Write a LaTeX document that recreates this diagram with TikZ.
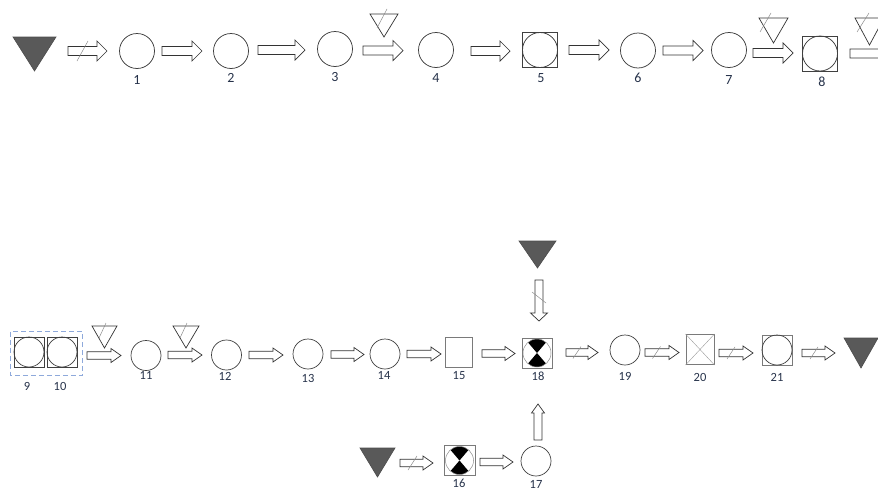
\documentclass[tikz,border=0pt]{standalone}
\usepackage{fontspec}
\setmainfont{Carlito}
\usetikzlibrary{calc}
\definecolor{lblc}{HTML}{26324A}
\definecolor{trifill}{HTML}{595959}
\definecolor{dashblue}{HTML}{8EA9DB}
\definecolor{linec}{HTML}{404040}
\definecolor{sqgray}{HTML}{7A7A7A}
\newcommand\bkarrow[7]{%
  \begin{scope}[shift={(#1,#2)},rotate=#4]
    \draw[barrow] (0,-#5) -- ({#3-#7},-#5) -- ({#3-#7},-#6) -- (#3,0) -- ({#3-#7},#6) -- ({#3-#7},#5) -- (0,#5) -- cycle;
  \end{scope}}
\newcommand\slashat[4]{\draw[slash] ({#1-#3},{#2+#4}) -- ({#1+#3},{#2-#4});}
\newcommand\otri[4]{\draw[opentri] (#1,#3) -- (#2,#3) -- ({(#1+#2)/2},#4) -- cycle;}
\newcommand\ftri[4]{\draw[filltri] (#1,#3) -- (#2,#3) -- ({(#1+#2)/2},#4) -- cycle;}
\newcommand\hourglass[2]{%
  \begin{scope}
    \clip (#1.center) circle[radius=#2];
    \fill[black] (#1.center) -- ++(-17,-20) -- ++(34,0) -- cycle;
    \fill[black] (#1.center) -- ++(-17,20) -- ++(34,0) -- cycle;
  \end{scope}
  \draw[thinc] (#1.center) circle[radius=#2];}
\tikzset{
  barrow/.style={draw=black!80, fill=white, line width=0.7pt, line join=miter},
  slash/.style={draw=black!45, line width=0.5pt},
  opentri/.style={draw=black!80, fill=white, line width=0.7pt, line join=miter},
  filltri/.style={draw=black!70, fill=trifill, line width=0.6pt, line join=miter},
  ctop/.style={circle, draw=linec, line width=0.75pt, minimum size=35pt, inner sep=0pt},
  cbot/.style={circle, draw=linec, line width=0.7pt, minimum size=30pt, inner sep=0pt},
  sqtop/.style={rectangle, draw=linec, line width=0.8pt, minimum width=35pt, minimum height=35pt, inner sep=0pt},
  sqbot/.style={rectangle, draw=sqgray, line width=0.8pt, minimum width=#1, minimum height=30pt, inner sep=0pt},
  sqbot/.default=30pt,
  sqdark/.style={rectangle, draw=linec, line width=0.8pt, minimum width=30pt, minimum height=30pt, inner sep=0pt},
  thinc/.style={draw=black!45, line width=0.5pt},
  xline/.style={draw=black!40, line width=0.4pt},
  lbltop/.style={text=lblc, font=\fontsize{14}{16}\selectfont, inner sep=0pt},
  lblbot/.style={text=lblc, font=\fontsize{12.5}{14}\selectfont, inner sep=0pt},
  dashbox/.style={draw=dashblue, line width=0.8pt, dash pattern=on 5pt off 3pt}
}
\begin{document}
\begin{tikzpicture}[x=1pt,y=-1pt]
\useasboundingbox (0,0) rectangle (878,490);
\clip (0,0) rectangle (878,490);
% ---------------- top row ----------------
\ftri{13}{56}{37}{71}
\bkarrow{68}{51}{39}{0}{4.5}{10}{10}
\slashat{82.5}{51}{5.5}{10}
\node[ctop] (n1) at (137,51) {};
\node[lbltop] (l1) at (137,79.5) {1};
\bkarrow{162}{51}{40}{0}{4.5}{10}{10}
\node[ctop] (n2) at (231,51) {};
\node[lbltop] (l2) at (231,78) {2};
\bkarrow{258}{50}{47}{0}{4.5}{10}{10}
\node[ctop] (n3) at (335,49) {};
\node[lbltop] (l3) at (335,77.5) {3};
\otri{370}{398}{14}{37}
\draw[slash] (377,28) -- (387,9);
\bkarrow{363}{50.5}{40}{0}{4.5}{10}{10}
\node[ctop] (n4) at (436,50) {};
\node[lbltop] (l4) at (436,78) {4};
\bkarrow{471}{51}{39}{0}{4.5}{10}{10}
\node[sqtop] (n5) at (540,50) {};
\node[ctop] (n5c) at (n5) {};
\node[lbltop] (l5) at (541,78) {5};
\bkarrow{569}{50}{40}{0}{4.5}{10}{10}
\node[ctop] (n6) at (638,50.5) {};
\node[lbltop] (l6) at (638,78) {6};
\bkarrow{663}{50.5}{40}{0}{4.5}{10}{10}
\node[ctop] (n7) at (729,50) {};
\node[lbltop] (l7) at (729,80) {7};
\otri{759}{788}{18}{43}
\draw[slash] (760,32) -- (771,13);
\bkarrow{753}{53}{40}{0}{4.5}{10}{10}
\node[sqtop] (n8) at (820,53.5) {};
\node[ctop] (n8c) at (n8) {};
\node[lbltop] (l8) at (822,81.5) {8};
\otri{855}{884}{18}{45}
\draw[slash] (857,32) -- (869,13);
\bkarrow{850}{53.5}{40}{0}{4.5}{10}{10}
% ---------------- bottom row ----------------
\node[sqdark] (n9) at (29,352) {};
\node[cbot] (n9c) at (n9) {};
\node[sqdark] (n10) at (62,352) {};
\node[cbot] (n10c) at (n10) {};
\draw[dashbox] ($(n9.north west)+(-3,-5)$) rectangle ($(n10.south east)+(5,8)$);
\node[lblbot] (l9) at (27,386) {9};
\node[lblbot] (l10) at (60,386) {10};
\otri{92}{117}{326}{348}
\draw[slash] (99,338) -- (106,323);
\bkarrow{87}{355.5}{34}{0}{3.7}{7}{10}
\node[cbot] (n11) at (146,355.5) {};
\node[lblbot] (l11) at (146,375) {11};
\otri{173}{199}{326}{348}
\draw[slash] (180,338) -- (187,323);
\bkarrow{168}{355}{34}{0}{3.7}{7}{10}
\node[cbot] (n12) at (226.5,355) {};
\node[lblbot] (l12) at (225,376) {12};
\bkarrow{249}{355}{34}{0}{3.7}{7}{10}
\node[cbot] (n13) at (308,354) {};
\node[lblbot] (l13) at (308,378) {13};
\bkarrow{331}{354.5}{33}{0}{3.7}{7}{10}
\node[cbot] (n14) at (385,354) {};
\node[lblbot] (l14) at (384,375) {14};
\bkarrow{407}{354}{34}{0}{3.7}{7}{10}
\node[sqbot=27pt] (n15) at (458.5,352.5) {};
\node[lblbot] (l15) at (459,376) {15};
\bkarrow{482}{353.5}{33}{0}{3.7}{7}{10}
\node[sqbot] (n18) at (537,353) {};
\hourglass{n18}{14}
\node[lblbot] (l18) at (538,376.5) {18};
\ftri{519}{556}{241}{268}
\bkarrow{539}{280}{41}{-90}{4}{8.5}{8}
\draw[slash] (532,292) -- (546,303);
\bkarrow{566}{352.5}{32}{0}{3.7}{7}{10}
\slashat{577}{352.5}{4}{6}
\node[cbot] (n19) at (625,350) {};
\node[lblbot] (l19) at (625,376) {19};
\bkarrow{645}{352.5}{34}{0}{3.7}{7}{10}
\slashat{656.5}{352.5}{4}{6}
\node[sqbot=28pt] (n20) at (700,349.5) {};
\draw[xline] (n20.north west) -- (n20.south east) (n20.north east) -- (n20.south west);
\node[lblbot] (l20) at (700,377) {20};
\bkarrow{719}{353}{34}{0}{3.7}{7}{10}
\slashat{731}{353}{4}{6}
\node[sqbot] (n21) at (777,350) {};
\node[cbot] (n21c) at (n21) {};
\node[lblbot] (l21) at (777,377) {21};
\bkarrow{802}{353}{33}{0}{3.7}{7}{10}
\slashat{814}{353}{4}{6}
\ftri{844}{878}{338}{368}
% ---------------- lower branch ----------------
\ftri{360}{395}{448}{477}
\bkarrow{400}{463}{33}{0}{3.7}{7}{10}
\slashat{412.5}{463}{4.5}{7}
\node[sqbot=31pt] (n16) at (459.5,460.5) {};
\hourglass{n16}{14}
\node[lblbot] (l16) at (459,483.5) {16};
\bkarrow{480}{462}{33}{0}{3.7}{7}{10}
\node[cbot] (n17) at (536,461) {};
\node[lblbot] (l17) at (536,484) {17};
\bkarrow{538}{440}{36}{90}{4}{6.5}{9}
\end{tikzpicture}
\end{document}
